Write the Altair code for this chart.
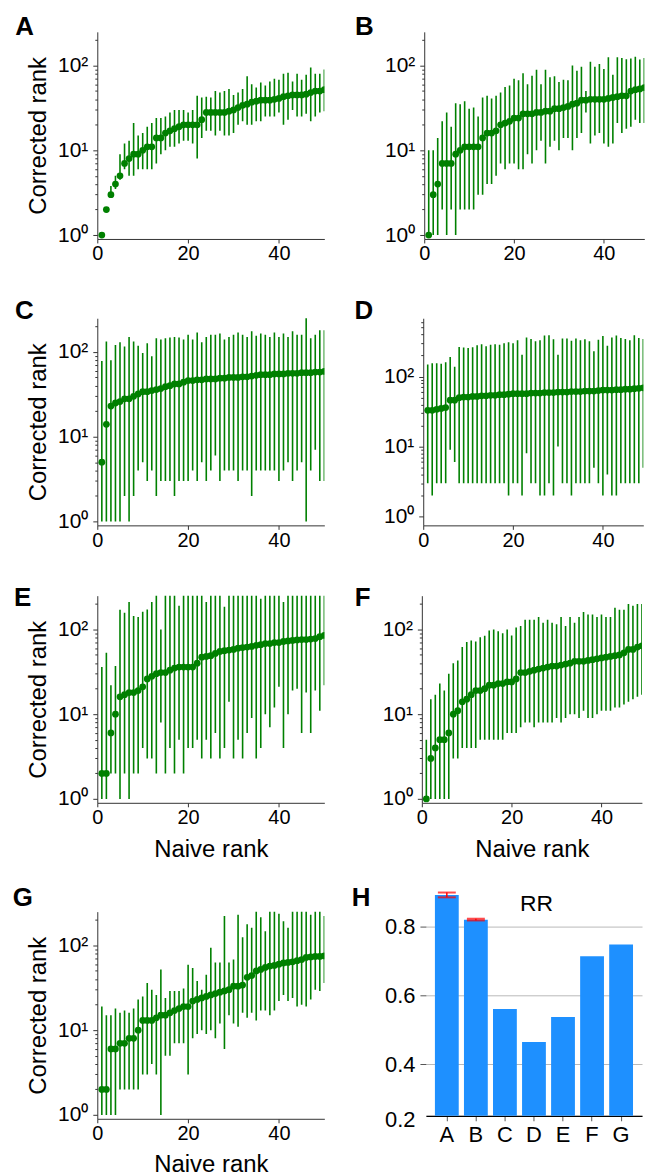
import altair as alt
import pandas as pd

FONT = "Liberation Sans"
GREEN = "#008000"

naive_rank = list(range(1, 51))

A_med = [1, 2, 3, 4, 5, 7, 8, 9, 9, 10, 11, 11, 14, 14, 16, 17, 18, 19, 20, 20,
         20, 20, 23, 28, 28, 28, 28, 28, 29, 30, 32, 34, 35, 37, 38, 39, 39, 39, 40, 41,
         43, 44, 45, 45, 45, 46, 48, 50, 50, 52]
A_hi = [1, 2, 3.8, 5, 9, 12, 13, 21, 15, 16, 19, 21, 24, 24, 25, 28, 30, 30, 30, 28,
        30, 44, 42, 43, 42, 50, 48, 50, 53, 45, 48, 53, 75, 60, 55, 63, 58, 65, 70, 68,
        80, 82, 65, 80, 68, 78, 95, 80, 80, 90]
A_lo = [1, 2, 2.8, 3.5, 4.5, 6, 5, 5, 6, 6, 6, 6, 7, 9, 10, 11, 11, 12, 13, 13,
        12, 8, 14, 17, 17, 15, 17, 15, 15, 16, 20, 22, 20, 20, 22, 22, 25, 25, 25, 28,
        20, 23, 30, 25, 25, 27, 22, 25, 28, 29]

B_med = [1, 3, 4, 7, 7, 7, 9, 10, 11, 11, 11, 11, 14, 16, 16, 17, 20, 21, 22, 24,
         24, 27, 27, 27, 28, 28, 29, 29, 31, 31, 32, 33, 35, 36, 39, 39, 40, 40, 40, 40,
         41, 42, 43, 44, 44, 50, 52, 53, 55, 57]
B_hi = [10, 10, 14, 22, 28, 19, 36, 35, 38, 31, 32, 25, 42, 44, 41, 44, 48, 56, 58, 70,
        67, 81, 60, 76, 89, 60, 89, 73, 75, 64, 68, 67, 100, 87, 97, 50, 111, 97, 104, 91,
        125, 78, 125, 123, 119, 121, 127, 118, 123, 120]
B_lo = [1, 1, 1, 2, 1, 2, 1, 2, 2, 2, 2, 3, 3, 4, 4, 5, 7, 6, 7, 7,
        6, 6, 9, 7, 10, 13, 7, 11, 13, 10, 14, 14, 10, 14, 16, 28, 12, 15, 16, 12,
        11, 12, 21, 16, 18, 19, 23, 21, 21, 21]

C_med = [5, 14, 23, 25, 26, 28, 28, 30, 32, 34, 34, 35, 36, 37, 39, 40, 42, 42, 44, 46,
         46, 47, 47, 48, 48, 48, 49, 49, 50, 50, 50, 51, 51, 52, 53, 54, 54, 54, 55, 55,
         55, 56, 56, 56, 57, 57, 57, 58, 58, 59]
C_hi = [78, 133, 80, 121, 130, 116, 150, 133, 118, 97, 127, 89, 145, 140, 145, 148, 150, 148, 140, 160,
        140, 170, 130, 150, 160, 160, 165, 140, 150, 160, 170, 160, 150, 175, 155, 165, 160, 150, 170, 150,
        165, 150, 175, 160, 160, 260, 145, 160, 180, 180]
C_lo = [1, 1, 1, 1, 1, 2, 1, 2, 4, 5, 3, 4, 2, 3, 3, 3, 2, 3, 3, 3,
        4, 3, 5, 3, 4, 6, 3, 4, 4, 4, 3, 4, 4, 2, 4, 4, 4, 4, 4, 3,
        4, 5, 3, 4, 5, 1, 4, 7, 3, 3]

D_med = [33, 33, 34, 35, 36, 46, 46, 50, 51, 51, 52, 52, 53, 53, 54, 54, 55, 55, 56, 57,
         57, 57, 57, 58, 58, 58, 59, 59, 59, 60, 60, 60, 61, 61, 61, 62, 62, 62, 63, 64,
         64, 64, 65, 65, 66, 66, 67, 68, 69, 70]
D_hi = [148, 155, 155, 152, 160, 190, 138, 265, 260, 255, 262, 280, 290, 270, 285, 290, 285, 300, 310, 300,
        330, 205, 360, 345, 320, 330, 385, 390, 340, 205, 350, 350, 325, 350, 330, 340, 320, 230, 335, 380,
        275, 360, 385, 355, 345, 330, 390, 355, 345, 360]
D_lo = [3, 2, 3, 3, 3, 9, 6, 3, 3, 3, 3, 3, 3, 3, 3, 3, 3, 3, 2, 3,
        3, 2, 8, 3, 3, 2, 2, 3, 2, 10, 3, 3, 2, 3, 3, 3, 3, 5, 3, 2,
        4, 2, 2, 3, 3, 3, 3, 3, 5, 3]

E_med = [2, 2, 6, 10, 16, 17, 18, 18, 19, 21, 26, 28, 30, 31, 31, 33, 35, 36, 36, 36,
         36, 40, 47, 48, 49, 52, 55, 56, 57, 58, 60, 61, 62, 63, 65, 66, 68, 68, 70, 70,
         72, 73, 74, 75, 76, 76, 77, 78, 82, 85]
E_hi = [36, 53, 22, 37, 170, 157, 210, 144, 140, 162, 172, 211, 260, 100, 260, 260, 260, 190, 260, 260,
        260, 260, 260, 210, 260, 260, 260, 185, 260, 260, 260, 260, 260, 260, 260, 230, 260, 260, 260, 260,
        210, 260, 260, 260, 260, 260, 260, 260, 260, 260]
E_lo = [1, 1, 2, 2, 1, 2, 1, 2, 2, 4, 3, 3, 2, 8, 2, 4, 2, 5, 2, 4,
        4, 5, 3, 5, 3, 6, 3, 4, 14, 3, 5, 3, 6, 9, 3, 4, 10, 7, 12, 21,
        4, 10, 19, 20, 6, 18, 6, 19, 11, 22]

F_med = [1, 3, 4, 5, 5, 6, 10, 11, 14, 15, 17, 19, 19, 20, 22, 22, 23, 23, 24, 24,
         26, 31, 31, 32, 33, 34, 35, 36, 37, 37, 38, 39, 40, 42, 42, 42, 43, 44, 45, 46,
         47, 48, 49, 50, 53, 58, 58, 62, 64, 66]
F_hi = [5, 15, 17, 23, 19, 30, 40, 43, 62, 71, 74, 72, 81, 84, 97, 100, 95, 90, 100, 85,
        105, 110, 130, 130, 130, 140, 120, 130, 120, 115, 140, 110, 140, 120, 140, 160, 150, 150, 140, 150,
        140, 140, 180, 170, 170, 200, 190, 200, 200, 200]
F_lo = [1, 1, 1, 1, 1, 1, 3, 3, 4, 4, 4, 4, 5, 5, 5, 5, 5, 5, 6, 6,
        6, 7, 8, 8, 7, 8, 8, 8, 8, 9, 8, 9, 10, 10, 9, 11, 9, 9, 10, 11,
        11, 11, 12, 12, 13, 14, 15, 16, 17, 17]

G_med = [2, 2, 6, 6, 7, 7, 8, 8, 10, 13, 13, 13, 14, 15, 15, 16, 17, 18, 19, 19,
         22, 23, 24, 25, 26, 27, 28, 29, 30, 33, 33, 34, 42, 44, 50, 52, 55, 57, 58, 60,
         62, 63, 64, 66, 68, 72, 73, 74, 74, 75]
G_hi = [19, 15, 15, 18, 16, 17, 16, 18, 23, 25, 36, 30, 26, 52, 24, 29, 29, 29, 31, 59,
        54, 38, 30, 45, 94, 63, 63, 222, 63, 68, 230, 125, 177, 161, 260, 215, 147, 260, 260, 236,
        193, 161, 260, 260, 260, 260, 230, 260, 260, 222]
G_lo = [1, 1, 1, 1, 2, 2, 2, 2, 2, 3, 3, 4, 3, 1, 5, 5, 7, 7, 7, 3,
        8, 9, 10, 9, 10, 8, 12, 6, 15, 12, 11, 16, 14, 16, 13, 17, 17, 15, 17, 22,
        26, 22, 24, 19, 20, 19, 23, 30, 29, 36]

rr_panels = ["A", "B", "C", "D", "E", "F", "G"]
rr_values = [0.891, 0.819, 0.560, 0.464, 0.537, 0.713, 0.747]
rr_err_panels = ["A", "B"]
rr_err_lo = [0.884, 0.817]
rr_err_hi = [0.898, 0.822]

x_ticks = [0, 20, 40]
h_ticks = [0.25, 0.4, 0.6, 0.8]

MAJOR = "datum.value == 1 || datum.value == 10 || datum.value == 100"
LOG_LABEL = ("datum.value == 1 ? '10\u2070' : datum.value == 10 ? '10\u00b9' : "
             "datum.value == 100 ? '10\u00b2' : ''")


def log_ticks(top):
    vals = []
    for dec in [1, 10, 100]:
        for m in range(1, 10):
            if m * dec <= top:
                vals.append(m * dec)
    return vals


def letter_layer(letter, lx, ly):
    return alt.Chart(pd.DataFrame({"t": [letter]})).mark_text(
        align="left", baseline="top", font=FONT, fontSize=26, fontWeight="bold", color="black"
    ).encode(text="t:N", x=alt.value(lx), y=alt.value(ly))


def scatter_panel(letter, med, lo, hi, ydom, xmax, width, ytitle, xtitle, lx, ly, xtp=10):
    df = pd.DataFrame({"x": naive_rank, "y": med, "lo": lo, "hi": hi})
    xaxis = dict(values=x_ticks, labelFontSize=20, labelPadding=1, tickSize=4,
                 titleFontSize=24, titlePadding=xtp)
    xenc = alt.X("x:Q", scale=alt.Scale(domain=[0, xmax], nice=False, zero=False),
                 axis=alt.Axis(**xaxis), title=xtitle if xtitle else None)
    yscale = alt.Scale(type="log", domain=ydom, nice=False)
    yaxis = alt.Axis(values=log_ticks(ydom[1]), labelExpr=LOG_LABEL,
                     tickSize={"condition": {"test": MAJOR, "value": 4.5}, "value": 2.5},
                     labelFontSize=21, labelPadding=5, titleFontSize=24, titlePadding=7)
    ytit = ytitle if ytitle else None
    rules = alt.Chart(df).mark_rule(color=GREEN, strokeWidth=1.6, clip=True).encode(
        x=xenc, y=alt.Y("lo:Q", scale=yscale, axis=yaxis, title=ytit), y2="hi:Q")
    pts = alt.Chart(df).mark_circle(color=GREEN, opacity=1, size=46, clip=True).encode(
        x=xenc, y=alt.Y("y:Q", scale=yscale, axis=yaxis, title=ytit))
    return alt.layer(rules, pts, letter_layer(letter, lx, ly)).properties(width=width, height=208)


def rr_panel(lx, ly):
    df = pd.DataFrame({"panel": rr_panels, "rr": rr_values})
    dfe = pd.DataFrame({"panel": rr_err_panels, "lo": rr_err_lo, "hi": rr_err_hi})
    xs = alt.Scale(paddingInner=0.18, paddingOuter=0.31)
    xenc = alt.X("panel:N", scale=xs, title=None,
                 axis=alt.Axis(labelAngle=0, labelFontSize=22, labelPadding=4, tickSize=5,
                               tickColor="#555555", domainColor="black", domainWidth=1.2))
    ys = alt.Scale(domain=[0.25, 0.8425], zero=False, nice=False)
    yaxis = alt.Axis(values=h_ticks,
                     labelExpr="datum.value < 0.3 ? '0.2' : format(datum.value, '.1f')",
                     grid=True, gridColor="#b8b8b8", gridWidth=1, domain=False,
                     tickSize=6, tickColor="#555555",
                     tickOpacity={"condition": {"test": "datum.value < 0.3", "value": 0}, "value": 1},
                     labelOffset={"condition": {"test": "datum.value < 0.3", "value": 4}, "value": 0},
                     labelFontSize=22, labelPadding=5)
    bars = alt.Chart(df).mark_bar(color="#1E90FF").encode(
        x=xenc, y=alt.Y("rr:Q", scale=ys, axis=yaxis, title=None), y2=alt.datum(0.25))
    err = alt.Chart(dfe).mark_rule(color="red", strokeWidth=1.5).encode(
        x=xenc, y=alt.Y("lo:Q", scale=ys, axis=yaxis, title=None), y2="hi:Q")
    cap_lo = alt.Chart(dfe).mark_tick(color="red", thickness=2, size=18).encode(
        x=xenc, y=alt.Y("lo:Q", scale=ys, axis=yaxis, title=None))
    cap_hi = alt.Chart(dfe).mark_tick(color="red", thickness=2, size=18).encode(
        x=xenc, y=alt.Y("hi:Q", scale=ys, axis=yaxis, title=None))
    rr_title = alt.Chart(pd.DataFrame({"t": ["RR"]})).mark_text(
        align="center", baseline="alphabetic", font=FONT, fontSize=23, color="black"
    ).encode(text="t:N", x=alt.value(111), y=alt.value(-1))
    return alt.layer(bars, err, cap_lo, cap_hi, rr_title, letter_layer("H", lx, ly)).properties(
        width=217, height=205)


YT = "Corrected rank"
XT = "Naive rank"
dom = [0.9, 250]

pA = scatter_panel("A", A_med, A_lo, A_hi, dom, 50, 228, YT, None, -82.3, -18)
pB = scatter_panel("B", B_med, B_lo, B_hi, dom, 49, 221, None, None, -69.4, -18)
pC = scatter_panel("C", C_med, C_lo, C_hi, dom, 50, 228, YT, None, -82.7, -20)
pD = scatter_panel("D", D_med, D_lo, D_hi, [0.75, 680], 49, 221, None, None, -69, -20)
pE = scatter_panel("E", E_med, E_lo, E_hi, dom, 50, 228, YT, XT, -83.75, -11)
pF = scatter_panel("F", F_med, F_lo, F_hi, dom, 49, 221, None, XT, -67.4, -11)
pG = scatter_panel("G", G_med, G_lo, G_hi, dom, 50, 228, YT, XT, -85, -26.5, xtp=9)
pH = rr_panel(-74.4, -26.5)

row1 = alt.hconcat(pA, pB, spacing=30.3)
row2 = alt.hconcat(pC, pD, spacing=30.3)
row3 = alt.hconcat(pE, pF, spacing=29.9)
row4 = alt.hconcat(pG, pH, spacing=27)

inner = alt.vconcat(row1, row2, row3, spacing=34.6)
chart = alt.vconcat(inner, row4, spacing=22.5).properties(
    padding={"left": 12.7, "top": 11.5, "right": 0, "bottom": 0},
    background="white",
).configure_view(strokeWidth=0).configure_axis(
    labelFont=FONT, titleFont=FONT, labelColor="black", titleColor="black",
    titleFontWeight="normal", domainColor="#333333", tickColor="#333333",
    grid=False, labelFlush=False, labelOverlap=False,
)

chart.save("out.html", embed_options={"renderer": "svg", "actions": False})
